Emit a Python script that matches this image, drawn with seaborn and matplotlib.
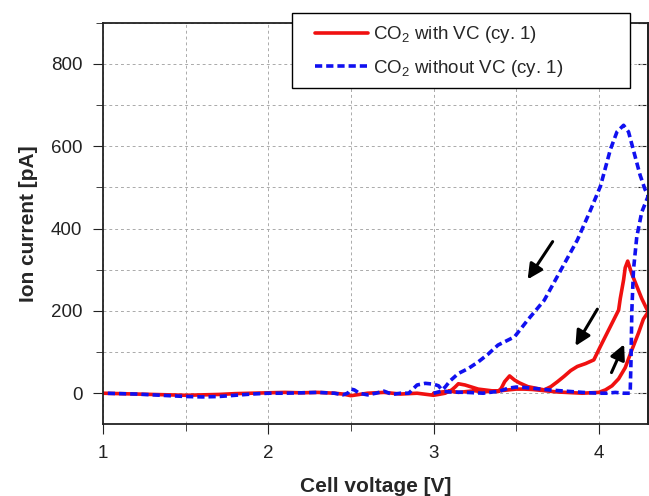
import matplotlib
matplotlib.use("Agg")
import matplotlib.pyplot as plt
from matplotlib.patches import Rectangle
from matplotlib.ticker import MultipleLocator
import seaborn as sns
import pandas as pd

# CO2 signal with VC, cycle 1 (voltage sweep 3.0 -> 4.3 -> 1.0 V)
with_vc_volt = [3.00, 3.05, 3.10, 3.15, 3.20, 3.25, 3.30, 3.35, 3.40, 3.45, 3.50, 3.55,
                3.60, 3.65, 3.70, 3.75, 3.80, 3.85, 3.90, 3.95, 4.00, 4.04, 4.08, 4.12,
                4.16, 4.20, 4.24, 4.27, 4.30,
                4.29, 4.26, 4.23, 4.20, 4.175, 4.16, 4.15, 4.13, 4.12, 4.09, 4.05, 4.01,
                3.97, 3.92, 3.87, 3.83, 3.79, 3.75, 3.71, 3.67, 3.62, 3.57, 3.52, 3.49,
                3.46, 3.43, 3.41, 3.39, 3.35, 3.31, 3.27, 3.23, 3.19, 3.15, 3.13, 3.11,
                3.07, 3.03, 3.00,
                2.90, 2.80, 2.70, 2.60, 2.55, 2.50, 2.45, 2.40, 2.30, 2.20, 2.10, 2.00,
                1.90, 1.80, 1.70, 1.60, 1.50, 1.40, 1.30, 1.20, 1.10, 1.00]
with_vc_curr = [0, 3, 5, 2, 4, 6, 3, 5, 6, 8, 10, 10,
                9, 7, 5, 3, 2, 1, 0, 1, 2, 8, 18, 35,
                62, 105, 146, 180, 198,
                205, 230, 260, 290, 321, 305, 275, 230, 202, 178, 146, 114,
                81, 72, 65, 55, 41, 28, 16, 8, 12, 16, 25, 32,
                42, 28, 12, 4, 6, 8, 10, 15, 20, 23, 15, 8,
                0, -3, -5,
                0, -2, 2, 0, -3, -6, -2, 0, 2, 1, 2, 1,
                0, -1, -3, -4, -5, -4, -3, -2, -1, 0]

# CO2 signal without VC, cycle 1
without_vc_volt = [3.00, 3.05, 3.10, 3.20, 3.30, 3.40, 3.45, 3.50, 3.55, 3.60, 3.70, 3.80,
                   3.90, 4.00, 4.05, 4.10, 4.15, 4.19, 4.195, 4.20, 4.21, 4.23, 4.26, 4.30,
                   4.28, 4.25, 4.22, 4.18, 4.15, 4.11, 4.07, 4.01, 3.95, 3.87, 3.77, 3.67,
                   3.57, 3.49, 3.39, 3.33, 3.27, 3.21, 3.15, 3.10, 3.07, 3.05, 3.03, 3.00,
                   2.95, 2.90, 2.87, 2.85,
                   2.80, 2.75, 2.70, 2.65, 2.60, 2.55, 2.52, 2.50, 2.48, 2.45, 2.40, 2.30,
                   2.20, 2.10, 2.00, 1.90, 1.80, 1.70, 1.60, 1.50, 1.40, 1.30, 1.20, 1.10, 1.00]
without_vc_curr = [0, 5, 3, 2, 0, 5, 12, 15, 14, 12, 8, 5,
                   2, 0, 0, 2, 0, 0, 80, 200, 300, 380, 440, 480,
                   495, 530, 575, 635, 651, 635, 592, 503, 445, 372, 299, 226,
                   178, 137, 117, 95, 76, 60, 48, 30, 15, 8, 18, 22,
                   24, 20, 8, 0,
                   0, -3, 5, 0, -4, 0, 8, 10, 0, -4, 0, 2,
                   1, 0, 0, -2, -5, -8, -9, -8, -6, -4, -2, -1, 0]

labels = ["CO$_2$ with VC (cy. 1)", "CO$_2$ without VC (cy. 1)"]

df = pd.concat([
    pd.DataFrame({"volt": with_vc_volt, "curr": with_vc_curr, "series": labels[0]}),
    pd.DataFrame({"volt": without_vc_volt, "curr": without_vc_curr, "series": labels[1]}),
])

sns.set_style("ticks")
plt.rcParams["font.family"] = ["Liberation Sans", "DejaVu Sans"]
plt.rcParams["mathtext.default"] = "regular"

fig = plt.figure(figsize=(6.49, 4.96), dpi=100)
ax = fig.add_axes([0.159, 0.145, 0.840, 0.809])

sns.lineplot(data=df, x="volt", y="curr", hue="series", style="series",
             palette={labels[0]: "#f01010", labels[1]: "#1010f0"},
             dashes={labels[0]: "", labels[1]: (2.0, 1.1)},
             sort=False, estimator=None, units="series", linewidth=2.6,
             ax=ax, legend=True)

ax.set_xlim(1, 4.3)
ax.set_ylim(-75, 900)
ax.xaxis.set_major_locator(MultipleLocator(1))
ax.xaxis.set_minor_locator(MultipleLocator(0.5))
ax.yaxis.set_major_locator(MultipleLocator(200))
ax.yaxis.set_minor_locator(MultipleLocator(100))
ax.grid(True, which="both", linestyle=(0, (3, 3)), color="#aaaaaa", linewidth=0.7)
ax.tick_params(which="both", direction="out", labelsize=13.5, colors="#222222",
               right=False, top=False)
ax.tick_params(which="major", length=7, pad=8)
ax.tick_params(which="minor", length=5)
for sp in ax.spines.values():
    sp.set_linewidth(1.3)
    sp.set_color("#222222")

# inward ticks on the right spine
ax_r = ax.secondary_yaxis("right")
ax_r.yaxis.set_major_locator(MultipleLocator(100))
ax_r.tick_params(direction="in", length=7, labelright=False, colors="#222222")
ax_r.spines["right"].set_linewidth(1.3)

ax.set_xlabel("Cell voltage [V]", fontsize=15, fontweight="bold", labelpad=11)
ax.set_ylabel("Ion current [pA]", fontsize=15, fontweight="bold", labelpad=9)

# scan direction arrows
arrow_kw = dict(arrowstyle="-|>,head_length=0.9,head_width=0.45", color="black", lw=2.2)
ax.annotate("", xy=(3.56, 271), xytext=(3.73, 374), arrowprops=arrow_kw)
ax.annotate("", xy=(3.85, 109), xytext=(4.00, 210), arrowprops=arrow_kw)
ax.annotate("", xy=(4.16, 125), xytext=(4.07, 44), arrowprops=arrow_kw)

# legend box (drawn separately so the inner padding can match)
W, H = 649, 496
fig.add_artist(Rectangle((292 / W, 1 - 88 / H), 338 / W, 75 / H, transform=fig.transFigure,
                         facecolor="white", edgecolor="black", linewidth=1.0, zorder=4))
handles, _ = ax.get_legend_handles_labels()
ax.get_legend().remove()
fig.legend(handles=handles, labels=labels, loc="center left",
           bbox_to_anchor=(315 / W, 1 - 51.5 / H), bbox_transform=fig.transFigure,
           fontsize=13.5, handlelength=2.8, handletextpad=0.3, frameon=False,
           borderaxespad=0, borderpad=0, labelspacing=0.65).set_zorder(5)

fig.savefig("out.png", dpi=100)
